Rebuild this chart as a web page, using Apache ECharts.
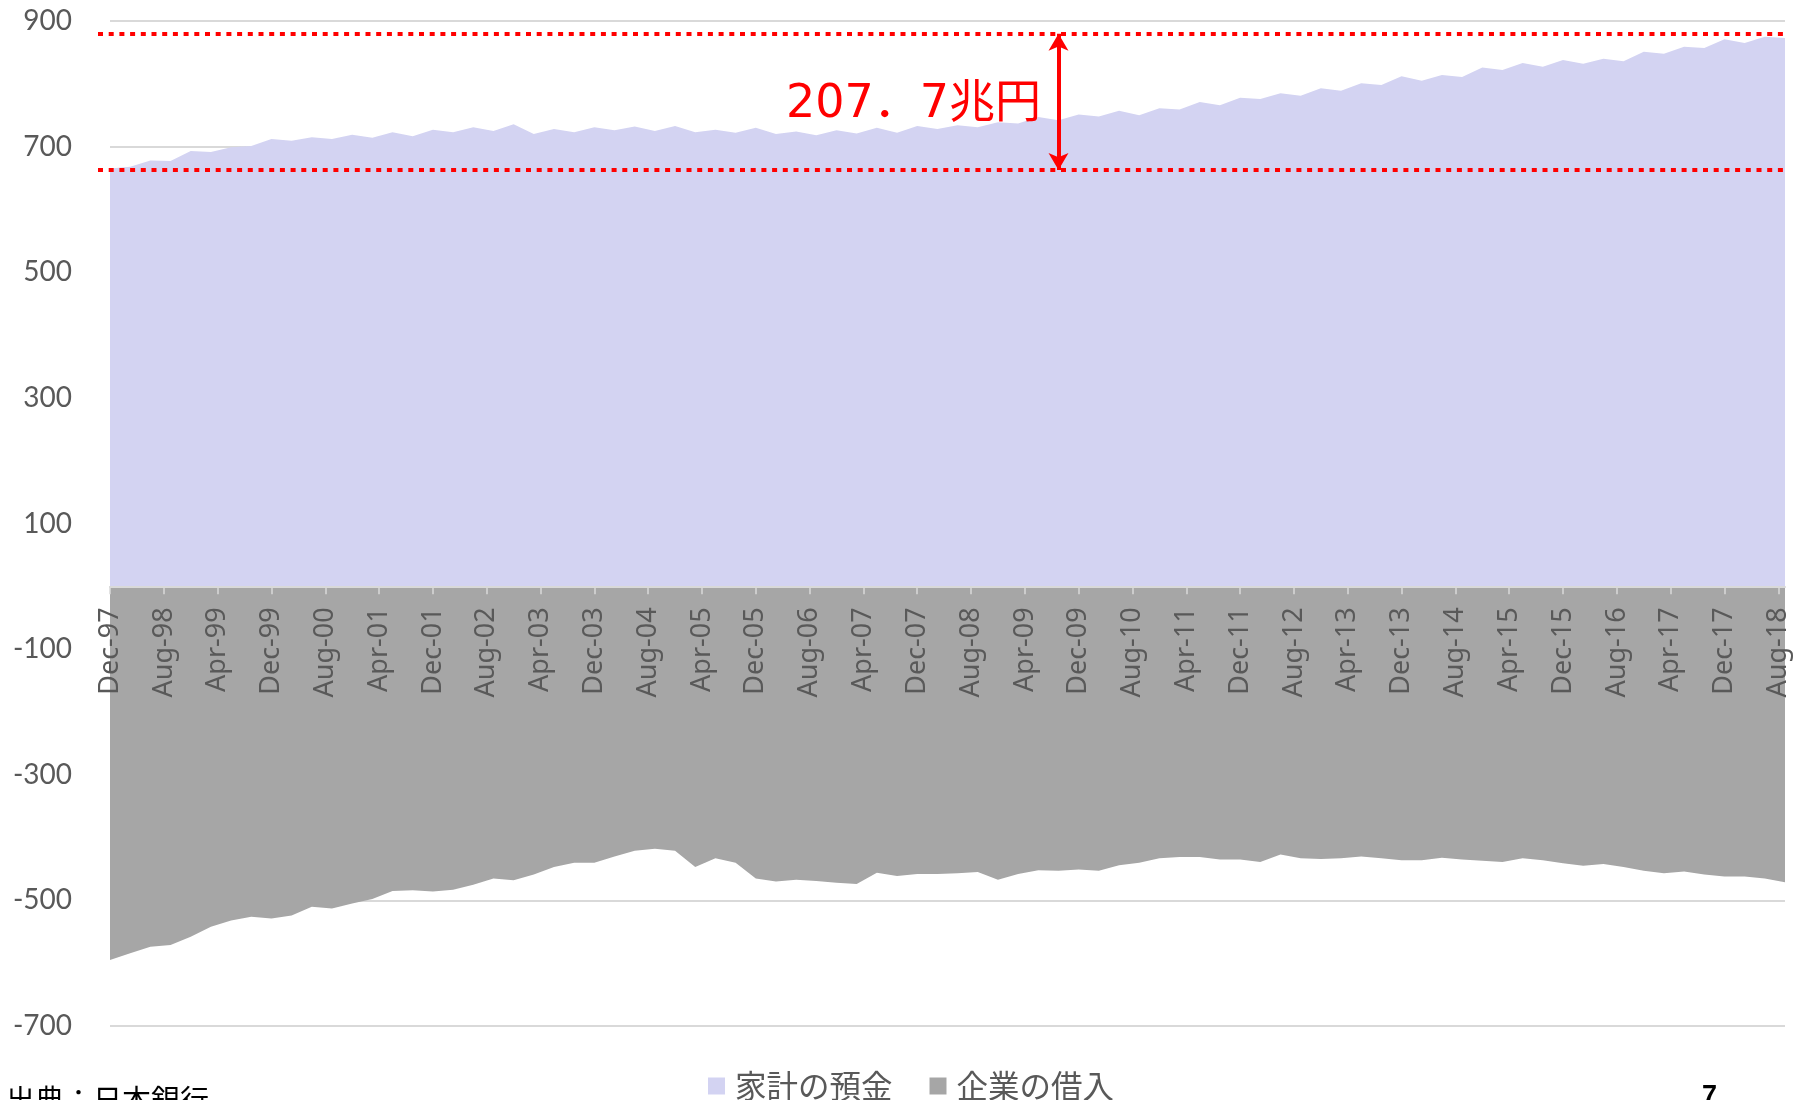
<!DOCTYPE html>
<html>
<head>
<meta charset="utf-8">
<script src="https://cdn.jsdelivr.net/npm/echarts@6/dist/echarts.min.js"></script>
<style>
  html, body { margin: 0; padding: 0; background: #fff; }
  #chart { width: 1805px; height: 1100px; }
</style>
</head>
<body>
<div id="chart"></div>
<script>
// quarterly observations, Dec-97 .. Sep-18
const quarters = [
  "1997-12",
  "1998-03", "1998-06", "1998-09", "1998-12",
  "1999-03", "1999-06", "1999-09", "1999-12",
  "2000-03", "2000-06", "2000-09", "2000-12",
  "2001-03", "2001-06", "2001-09", "2001-12",
  "2002-03", "2002-06", "2002-09", "2002-12",
  "2003-03", "2003-06", "2003-09", "2003-12",
  "2004-03", "2004-06", "2004-09", "2004-12",
  "2005-03", "2005-06", "2005-09", "2005-12",
  "2006-03", "2006-06", "2006-09", "2006-12",
  "2007-03", "2007-06", "2007-09", "2007-12",
  "2008-03", "2008-06", "2008-09", "2008-12",
  "2009-03", "2009-06", "2009-09", "2009-12",
  "2010-03", "2010-06", "2010-09", "2010-12",
  "2011-03", "2011-06", "2011-09", "2011-12",
  "2012-03", "2012-06", "2012-09", "2012-12",
  "2013-03", "2013-06", "2013-09", "2013-12",
  "2014-03", "2014-06", "2014-09", "2014-12",
  "2015-03", "2015-06", "2015-09", "2015-12",
  "2016-03", "2016-06", "2016-09", "2016-12",
  "2017-03", "2017-06", "2017-09", "2017-12",
  "2018-03", "2018-06", "2018-09"
];

// 家計の預金 (兆円)
const deposits = [
  665.2, 668, 678, 677, 693, 691.5, 699, 701, 712, 709.5,
  715, 712, 719, 714, 723, 716.5, 727, 723, 731, 725,
  735.5, 720, 728, 723, 731, 726, 732, 725, 733, 723,
  727, 722, 730, 720, 724, 718, 726, 721, 730, 722,
  733, 728, 734, 731, 739, 737, 747, 742, 751, 748,
  757, 750, 761, 759, 771, 766, 778, 776, 785, 781,
  793, 789, 801, 798, 812, 805, 814, 811, 826, 822,
  833, 827, 838, 832, 840, 836, 851, 848, 859, 857,
  871, 865, 875, 872.9
];

// 企業の借入 (兆円, negative side)
const loans = [
  -595, -584, -574, -571, -558, -542, -532, -526, -529, -524,
  -510, -513, -505, -498, -485, -484, -486, -483, -475, -465,
  -468, -459, -447, -440, -440, -430, -421, -418, -421, -447,
  -433, -440, -465, -470, -467, -469, -472, -474, -456, -461,
  -458, -458, -457, -455, -467, -458, -452, -453, -451, -453,
  -444, -440, -433, -431, -431, -435, -435, -439, -427, -433,
  -434, -433, -430, -433, -436, -436, -432, -435, -437, -439,
  -433, -436, -441, -445, -442, -447, -453, -457, -454, -459,
  -462, -462, -465, -471
];

// x-axis labels, one every 8 months from Dec-97
const tickLabels = [
  "Dec-97", "Aug-98", "Apr-99", "Dec-99", "Aug-00", "Apr-01", "Dec-01", "Aug-02",
  "Apr-03", "Dec-03", "Aug-04", "Apr-05", "Dec-05", "Aug-06", "Apr-07", "Dec-07",
  "Aug-08", "Apr-09", "Dec-09", "Aug-10", "Apr-11", "Dec-11", "Aug-12", "Apr-13",
  "Dec-13", "Aug-14", "Apr-15", "Dec-15", "Aug-16", "Apr-17", "Dec-17", "Aug-18"
];

const seriesNames = ["家計の預金", "企業の借入"];
const gapLow = 662.8;   // lower red guide
const gapHigh = 879.7;  // upper red guide
const gapLabel = "207．7兆円";
const sourceText = "出典：日本銀行";
const pageNo = "7";

const TICK_STEP = 8;
const Y_MIN = -700, Y_MAX = 900;
const GRID = { left: 110, right: 20, top: 21, bottom: 74 };

// months since Dec-97
function monthIndex(s) {
  const [y, m] = s.split("-").map(Number);
  return (y - 1997) * 12 + (m - 12);
}

const xs = quarters.map(monthIndex);
const xMax = xs[xs.length - 1];
const tickValues = tickLabels.map((_, i) => i * TICK_STEP);
const arrowX = 141;

// x axis sits on the zero line: shift it up from the grid bottom
const gridH = 1100 - GRID.top - GRID.bottom;
const zeroOffset = -((0 - Y_MIN) / (Y_MAX - Y_MIN)) * gridH;

const chart = echarts.init(document.getElementById("chart"));

const dotted = {
  color: "#ff0000",
  width: 4,
  type: [5, 5.7],
  cap: "butt",
};

const option = {
  animation: false,
  grid: Object.assign({ outerBoundsMode: "none" }, GRID),
  legend: {
    data: seriesNames,
    left: 708,
    top: 1069,
    padding: 0,
    icon: "rect",
    itemWidth: 17,
    itemHeight: 17,
    itemGap: 37,
    textStyle: {
      fontFamily: "Noto Sans CJK JP",
      fontSize: 31.5,
      lineHeight: 34,
      color: "#595959",
      padding: [0, 0, 0, 5],
    },
  },
  xAxis: {
    type: "value",
    min: 0,
    max: xMax,
    position: "bottom",
    offset: zeroOffset,
    z: 10,
    splitLine: { show: false },
    axisLine: {
      show: true,
      onZero: false,
      lineStyle: { color: "#d9d9d9", width: 2 },
    },
    axisTick: {
      show: true,
      customValues: tickValues,
      length: 8,
      lineStyle: { color: "#d9d9d9", width: 1.5 },
    },
    axisLabel: {
      customValues: tickValues,
      rotate: 90,
      margin: 21,
      fontFamily: "Noto Sans",
      fontSize: 27,
      color: "#595959",
      formatter: (v) => tickLabels[Math.round(v / TICK_STEP)] || "",
    },
  },
  yAxis: {
    type: "value",
    min: Y_MIN,
    max: Y_MAX,
    interval: 200,
    axisLine: { show: false },
    axisTick: { show: false },
    splitLine: { lineStyle: { color: "#d9d9d9", width: 2 } },
    axisLabel: {
      margin: 38,
      fontFamily: "Lato",
      fontSize: 28,
      color: "#595959",
    },
  },
  series: [
    {
      name: seriesNames[0],
      type: "line",
      data: xs.map((x, i) => [x, deposits[i]]),
      showSymbol: false,
      symbol: "none",
      color: "#d3d3f2",
      itemStyle: { color: "#d3d3f2" },
      lineStyle: { width: 0 },
      areaStyle: { color: "#d3d3f2", opacity: 1 },
      clip: false,
      markLine: {
        silent: true,
        animation: false,
        symbol: "none",
        label: { show: false },
        data: [
          [
            { coord: [0, gapHigh], x: 98, lineStyle: dotted },
            { coord: [xMax, gapHigh] },
          ],
          [
            { coord: [0, gapLow], x: 98, lineStyle: dotted },
            { coord: [xMax, gapLow] },
          ],
          [
            {
              coord: [arrowX, gapLow],
              symbol: "arrow",
              symbolSize: [15, 17],
              lineStyle: { color: "#ff0000", width: 4, type: "solid" },
            },
            { coord: [arrowX, gapHigh], symbol: "arrow", symbolSize: [15, 17] },
          ],
        ],
      },
    },
    {
      name: seriesNames[1],
      type: "line",
      data: xs.map((x, i) => [x, loans[i]]),
      showSymbol: false,
      symbol: "none",
      color: "#a6a6a6",
      itemStyle: { color: "#a6a6a6" },
      lineStyle: { width: 0 },
      areaStyle: { color: "#a6a6a6", opacity: 1 },
    },
  ],
  graphic: [
    {
      type: "text",
      x: 786,
      y: 105,
      z: 100,
      style: {
        text: gapLabel,
        fill: "#ff0000",
        font: '46px "DejaVu Sans", "Noto Sans CJK JP"',
        verticalAlign: "middle",
      },
    },
    {
      type: "text",
      x: 6,
      y: 1085,
      z: 100,
      style: {
        text: sourceText,
        fill: "#000000",
        font: '29px "Noto Sans CJK JP"',
        verticalAlign: "top",
      },
    },
    {
      type: "text",
      x: 1702,
      y: 1083,
      z: 100,
      style: {
        text: pageNo,
        fill: "#000000",
        font: 'bold 27px "Liberation Sans"',
        verticalAlign: "top",
      },
    },
  ],
};

chart.setOption(option);
</script>
</body>
</html>
